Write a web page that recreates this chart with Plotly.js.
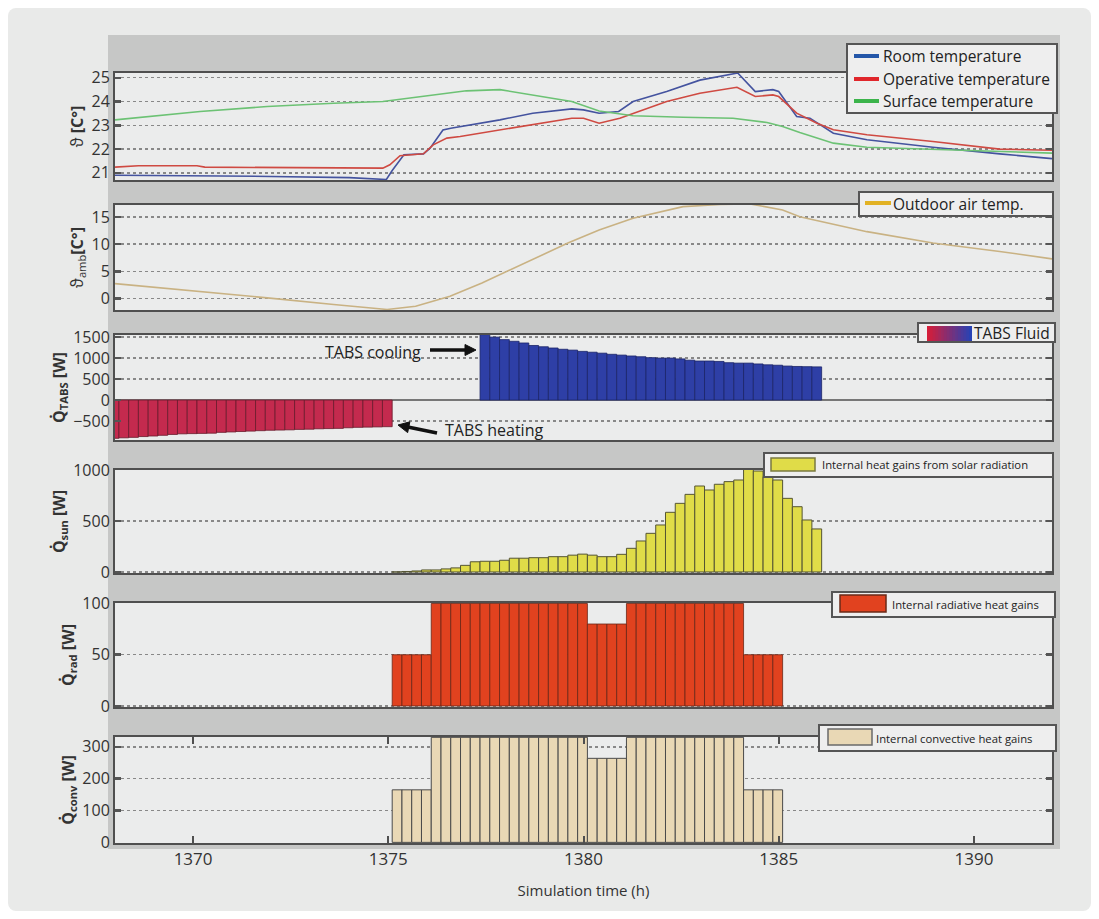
<!DOCTYPE html>
<html><head><meta charset="utf-8">
<script src="https://cdn.plot.ly/plotly-3.0.1.min.js"></script>
<style>
html,body{margin:0;padding:0;background:#fff;}
#frame{position:absolute;left:8px;top:8px;width:1083px;height:903px;background:#e9eae9;border-radius:8px;}
#chart{position:absolute;left:0;top:0;width:1099px;height:919px;}
</style></head><body>
<div id="frame"></div><div id="chart"></div>
<script>
// ---------- DATA ----------
const roomTime = [1368, 1370, 1372, 1374, 1374.95, 1375.1, 1375.4, 1375.9, 1376.07, 1376.4, 1376.6, 1377.86, 1378.7, 1379.7, 1380.0, 1380.4, 1380.9, 1381.27, 1382.13, 1382.98, 1383.83, 1383.95, 1384.4, 1384.85, 1385.0, 1385.46, 1385.8, 1386.4, 1387.26, 1388.95, 1390.66, 1392];
const roomTemp = [20.9, 20.88, 20.85, 20.8, 20.72, 21.1, 21.76, 21.8, 22.04, 22.8, 22.88, 23.23, 23.51, 23.69, 23.65, 23.51, 23.58, 24.0, 24.42, 24.9, 25.15, 25.2, 24.42, 24.5, 24.42, 23.37, 23.3, 22.67, 22.39, 22.08, 21.8, 21.6];

const operTime = [1368, 1368.6, 1370.1, 1370.3, 1374.86, 1375.04, 1375.3, 1375.9, 1376.15, 1376.5, 1376.84, 1377.86, 1378.7, 1379.7, 1380.0, 1380.4, 1380.93, 1382.13, 1382.98, 1383.93, 1384.4, 1384.85, 1385.0, 1385.46, 1385.98, 1386.4, 1387.26, 1388.95, 1390.66, 1392];
const operTemp = [21.24, 21.3, 21.3, 21.24, 21.2, 21.34, 21.72, 21.8, 22.18, 22.46, 22.53, 22.81, 23.02, 23.3, 23.3, 23.09, 23.3, 24.0, 24.35, 24.6, 24.21, 24.28, 24.21, 23.51, 23.09, 22.81, 22.6, 22.32, 22.0, 21.95];

const surfTime = [1368, 1370.18, 1371.9, 1373.6, 1374.86, 1376.15, 1377.0, 1377.86, 1378.7, 1379.7, 1380.4, 1381.27, 1382.55, 1383.83, 1384.7, 1385.1, 1385.54, 1386.4, 1387.26, 1388.95, 1389.82, 1392];
const surfTemp = [23.23, 23.58, 23.79, 23.93, 24.0, 24.28, 24.45, 24.5, 24.28, 24.0, 23.6, 23.4, 23.34, 23.3, 23.12, 22.95, 22.7, 22.25, 22.08, 22.0, 21.94, 21.83];

const outTime = [1368, 1370.18, 1371.9, 1373.6, 1374.97, 1375.7, 1376.58, 1377.4, 1378.3, 1379.6, 1380.4, 1381.27, 1382.55, 1383.5, 1384.26, 1385.1, 1385.54, 1387.26, 1388.95, 1390.66, 1392];
const outTemp = [2.74, 1.34, 0.13, -1.1, -2.0, -1.4, 0.43, 2.87, 5.9, 10.2, 12.6, 14.76, 16.9, 17.3, 17.4, 16.3, 15.05, 12.3, 10.2, 8.66, 7.3];

// quarter-hour bars
const stepH = 0.25;
const tabsHeatStart = 1367.975;
const tabsHeat = [-912, -900, -889, -870, -857, -840, -820, -805, -800, -795, -790, -770, -760, -750, -740, -730, -720, -715, -710, -700, -695, -685, -680, -675, -660, -650, -645, -640, -635];
const tabsCoolStart = 1377.475;
const tabsCool = [1560, 1500, 1440, 1400, 1360, 1300, 1270, 1240, 1210, 1190, 1160, 1140, 1117, 1090, 1071, 1050, 1032, 1010, 1000, 1000, 980, 950, 930, 930, 920, 890, 880, 880, 860, 840, 830, 810, 800, 795, 790];

const gainsStart = 1375.225;
const solarGain = [0, 5, 10, 20, 20, 30, 40, 65, 100, 105, 105, 115, 135, 135, 140, 140, 150, 150, 165, 175, 165, 150, 150, 173, 232, 304, 379, 461, 585, 673, 761, 843, 804, 860, 886, 902, 1017, 990, 935, 902, 722, 640, 510, 422];
const radGain = [50, 50, 50, 50, 100, 100, 100, 100, 100, 100, 100, 100, 100, 100, 100, 100, 100, 100, 100, 100, 80, 80, 80, 80, 100, 100, 100, 100, 100, 100, 100, 100, 100, 100, 100, 100, 50, 50, 50, 50];
const convGain = [165, 165, 165, 165, 330, 330, 330, 330, 330, 330, 330, 330, 330, 330, 330, 330, 330, 330, 330, 330, 264, 264, 264, 264, 330, 330, 330, 330, 330, 330, 330, 330, 330, 330, 330, 330, 165, 165, 165, 165];

const xTicks = [1370, 1375, 1380, 1385, 1390];
const tempTicks = [21, 22, 23, 24, 25];
const outTicks = [0, 5, 10, 15];
const tabsTicks = [-500, 0, 500, 1000, 1500];
const sunTicks = [0, 500, 1000];
const radTicks = [0, 50, 100];
const convTicks = [0, 100, 200, 300];

// ---------- LAYOUT HELPERS ----------
const W = 1099, H = 919, ML = 115, MR = 47, MT = 73, MB = 76;
const PW = W - ML - MR, PH = H - MT - MB;
const px = x => (x - ML) / PW;
const py = y => (MT + PH - y) / PH;
const FONT = 'Open Sans, Noto Sans, sans-serif';

const traces = [
  {type:'scatter', mode:'lines', name:'Room temperature', x:roomTime, y:roomTemp, xaxis:'x', yaxis:'y', line:{color:'#44539f', width:1.6}},
  {type:'scatter', mode:'lines', name:'Operative temperature', x:operTime, y:operTemp, xaxis:'x', yaxis:'y', line:{color:'#cf4a42', width:1.6}},
  {type:'scatter', mode:'lines', name:'Surface temperature', x:surfTime, y:surfTemp, xaxis:'x', yaxis:'y', line:{color:'#6cc274', width:1.6}},
  {type:'scatter', mode:'lines', name:'Outdoor air temp.', x:outTime, y:outTemp, xaxis:'x2', yaxis:'y2', line:{color:'#c9b283', width:1.6}},
  {type:'bar', name:'TABS heating', x0:tabsHeatStart, dx:stepH, y:tabsHeat, xaxis:'x3', yaxis:'y3', marker:{color:'#c42a4e', line:{color:'#6a1a2c', width:0.8}}},
  {type:'bar', name:'TABS cooling', x0:tabsCoolStart, dx:stepH, y:tabsCool, xaxis:'x3', yaxis:'y3', marker:{color:'#2e3fa6', line:{color:'#1c2468', width:0.8}}},
  {type:'bar', name:'Internal heat gains from solar radiation', x0:gainsStart, dx:stepH, y:solarGain, xaxis:'x4', yaxis:'y4', marker:{color:'#e0dc48', line:{color:'#555533', width:1}}},
  {type:'bar', name:'Internal radiative heat gains', x0:gainsStart, dx:stepH, y:radGain, xaxis:'x5', yaxis:'y5', marker:{color:'#e1421f', line:{color:'#6a2616', width:0.8}}},
  {type:'bar', name:'Internal convective heat gains', x0:gainsStart, dx:stepH, y:convGain, xaxis:'x6', yaxis:'y6', marker:{color:'#e9d8b5', line:{color:'#4a4a4a', width:1}}}
];

const doms = [[180,73],[310,205],[440,335],[573,470],[707,603],[843,737]];
const yRanges = [[20.7,25.2],[-2.1,17.2],[-952,1550],[-10,1000],[-1,100.5],[-2,331]];
const yTickSets = [tempTicks, outTicks, tabsTicks, sunTicks, radTicks, convTicks];
const yTitles = ['ϑ <b>[C°]</b>', 'ϑ<sub>amb</sub><b>[C°]</b>', '<b>Q̇<sub>TABS</sub> [W]</b>', '<b>Q̇<sub>sun</sub> [W]</b>', '<b>Q̇<sub>rad</sub> [W]</b>', '<b>Q̇<sub>conv</sub> [W]</b>'];

const layout = {
  width: W, height: H,
  margin: {l:ML, r:MR, t:MT, b:MB},
  paper_bgcolor: 'rgba(0,0,0,0)',
  plot_bgcolor: '#ebecec',
  font: {family: FONT, size: 16, color: '#333'},
  showlegend: false,
  barmode: 'overlay', bargap: 0,
  shapes: [], annotations: []
};

// grey chart band
layout.shapes.push({type:'rect', xref:'paper', yref:'paper', layer:'below',
  x0:px(108), x1:px(1060), y0:py(849), y1:py(35), fillcolor:'#c6c7c6', line:{width:0}});

for (let i = 0; i < 6; i++) {
  const n = i === 0 ? '' : String(i + 1);
  const bottom = i === 5;
  layout['xaxis' + n] = {
    domain:[0,1], anchor:'y' + n, range:[1368,1392],
    showline:true, mirror: bottom ? 'allticks' : true, linecolor:'#4f4f4f', linewidth:2,
    showgrid:false, zeroline:false,
    ticks: bottom ? 'inside' : '', ticklen:7, tickwidth:2, tickcolor:'#4f4f4f',
    tickvals: bottom ? xTicks : [], showticklabels: bottom,
    tickfont:{size:17, color:'#333'}
  };
  if (bottom) layout['xaxis' + n].title = {text:'Simulation time (h)', font:{size:15, color:'#333'}, standoff:16};
  layout['yaxis' + n] = {
    domain:[py(doms[i][0]), py(doms[i][1])], anchor:'x' + n, range:yRanges[i],
    showline:true, mirror:'allticks', linecolor:'#4f4f4f', linewidth:2,
    ticks:'inside', ticklen:6, tickwidth:2.5, tickcolor:'#555',
    tickvals:yTickSets[i], tickfont:{size:16, color:'#333'},
    showgrid:true, gridcolor:'#888', griddash:'dot', gridwidth:1.4,
    zeroline: i === 2, zerolinecolor:'#777', zerolinewidth:1.5,
    title:{text:yTitles[i], font:{size:16, color:'#333'}, standoff:4}
  };
  layout.shapes.push({type:'rect', xref:'paper', yref:'paper', layer:'below',
    x0:0, x1:1, y0:py(doms[i][0]), y1:py(doms[i][1]), fillcolor:'#ebecec', line:{width:0}});
}

// manual legends
function box(x0, y0, x1, y1) {
  layout.shapes.push({type:'rect', xref:'paper', yref:'paper', layer:'above',
    x0:px(x0), x1:px(x1), y0:py(y1), y1:py(y0), fillcolor:'#eeeeee', line:{color:'#555', width:2}});
}
function lineSwatch(x0, x1, y, color) {
  layout.shapes.push({type:'line', xref:'paper', yref:'paper', layer:'above',
    x0:px(x0), x1:px(x1), y0:py(y), y1:py(y), line:{color:color, width:4}});
}
function rectSwatch(x0, y0, x1, y1, color, edge) {
  layout.shapes.push({type:'rect', xref:'paper', yref:'paper', layer:'above',
    x0:px(x0), x1:px(x1), y0:py(y1), y1:py(y0), fillcolor:color, line:{color:edge, width:1.5}});
}
function label(x, y, text, size) {
  layout.annotations.push({xref:'paper', yref:'paper', x:px(x), y:py(y), text:text,
    showarrow:false, xanchor:'left', yanchor:'middle', borderpad:0,
    font:{size:size, color:'#222', family:FONT}});
}
function arrow(tx, ty, hx, hy) {
  const dx = hx - tx, dy = hy - ty, L = Math.hypot(dx, dy);
  const ux = dx / L, uy = dy / L, hl = 11, hw = 5.5;
  const bx = hx - ux * hl, by = hy - uy * hl;
  layout.shapes.push({type:'line', xref:'paper', yref:'paper', layer:'above',
    x0:px(tx), y0:py(ty), x1:px(bx + ux), y1:py(by + uy), line:{color:'#111', width:3.5}});
  const p1 = [bx - uy * hw, by + ux * hw], p2 = [bx + uy * hw, by - ux * hw];
  layout.shapes.push({type:'path', xref:'paper', yref:'paper', layer:'above',
    path:`M${px(hx)},${py(hy)} L${px(p1[0])},${py(p1[1])} L${px(p2[0])},${py(p2[1])} Z`,
    fillcolor:'#111', line:{color:'#111', width:1}});
}

box(847, 44, 1057, 113);
lineSwatch(854, 879, 56, '#2356a8'); label(882, 56, 'Room temperature', 15.5);
lineSwatch(854, 879, 79, '#e0262b'); label(882, 79, 'Operative temperature', 15.5);
lineSwatch(854, 879, 101, '#3cb44b'); label(882, 101, 'Surface temperature', 15.5);

box(859, 192, 1053, 216);
lineSwatch(865, 891, 203, '#e2b224'); label(892, 204, 'Outdoor air temp.', 15.5);

box(918, 323, 1055, 342);
const gradN = 16;
for (let k = 0; k < gradN; k++) {
  const t = k / (gradN - 1);
  const r = Math.round(212 + (40 - 212) * t), g = Math.round(30 + (66 - 30) * t), b = Math.round(58 + (180 - 58) * t);
  const a = 927 + (972 - 927) * k / gradN, c = 927 + (972 - 927) * (k + 1) / gradN + 0.8;
  layout.shapes.push({type:'rect', xref:'paper', yref:'paper', layer:'above',
    x0:px(a), x1:px(Math.min(c, 972)), y0:py(341), y1:py(326), fillcolor:`rgb(${r},${g},${b})`, line:{width:0}});
}
label(973, 333, 'TABS Fluid', 15.5);

box(764, 453, 1053, 477);
rectSwatch(771, 458, 815, 471, '#e0dc48', '#7a7a40'); label(821, 465, 'Internal heat gains from solar radiation', 11.3);

box(832, 592, 1055, 617);
rectSwatch(840, 595, 886, 612, '#e1421f', '#6a2a18'); label(891, 604, 'Internal radiative heat gains', 11.3);

box(819, 725, 1056, 751);
rectSwatch(828, 729, 872, 745, '#e9d8b5', '#6a6a6a'); label(875, 738, 'Internal convective heat gains', 11.3);

// TABS arrows and notes
arrow(430, 350, 476, 350);
arrow(437, 433, 398, 425);
layout.annotations.push({xref:'x3', yref:'y3', x:1374.6, y:1150, text:'TABS cooling',
  showarrow:false, borderpad:0, font:{size:16, color:'#222', family:FONT}});
layout.annotations.push({xref:'x3', yref:'y3', x:1377.7, y:-720, text:'TABS heating',
  showarrow:false, borderpad:0, font:{size:16, color:'#222', family:FONT}});

Plotly.newPlot('chart', traces, layout, {displayModeBar:false, staticPlot:true});
</script></body></html>
